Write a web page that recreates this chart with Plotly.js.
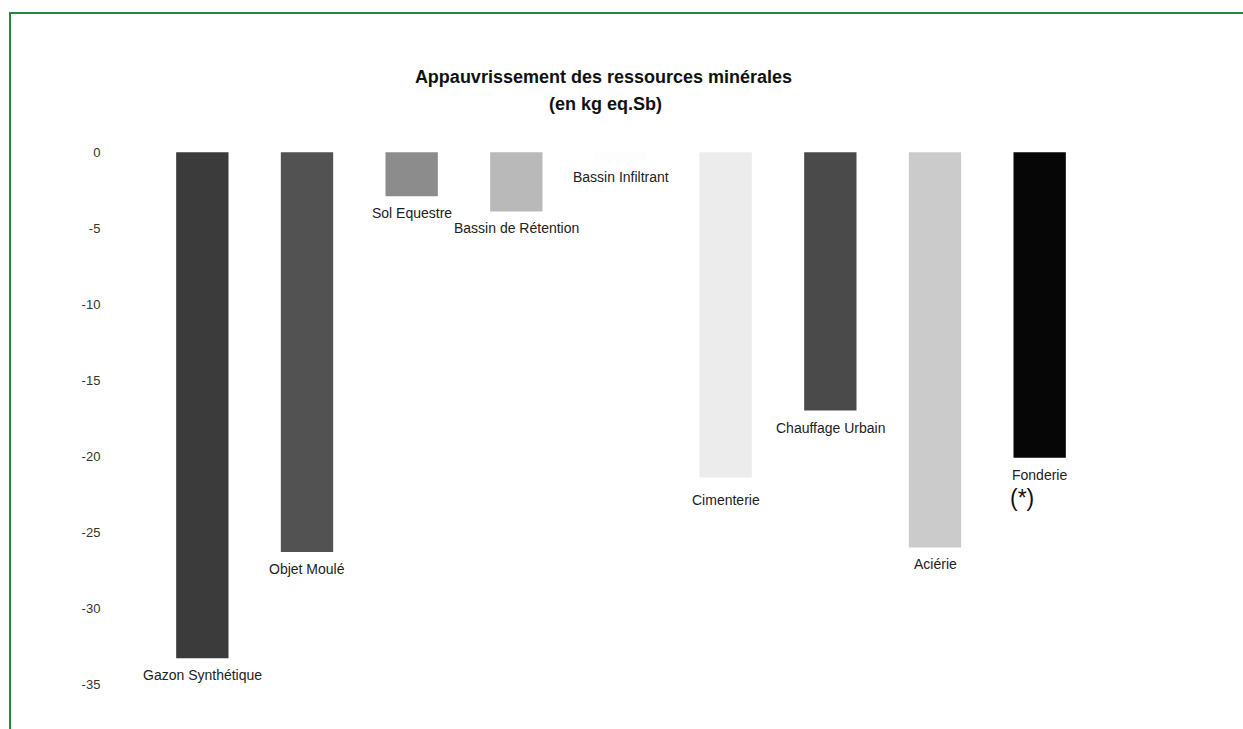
<!DOCTYPE html>
<html>
<head>
<meta charset="utf-8">
<script src="https://cdn.plot.ly/plotly-3.0.1.min.js"></script>
<style>
  html, body { margin: 0; padding: 0; background: #ffffff; }
  #wrap { position: relative; width: 1243px; height: 729px; overflow: hidden; }
  #chart { position: absolute; left: 0; top: 0; width: 1243px; height: 729px; }
  #frame { position: absolute; left: 9px; top: 12px; width: 1260px; height: 740px;
           border-top: 2px solid #1e8a3e; border-left: 2px solid #1e8a3e; pointer-events: none; }
</style>
</head>
<body>
<div id="wrap">
  <div id="chart"></div>
  <div id="frame"></div>
</div>
<script>
// ---- data ----
const categories = ["Gazon Synthétique", "Objet Moulé", "Sol Equestre", "Bassin de Rétention",
                    "Bassin Infiltrant", "Cimenterie", "Chauffage Urbain", "Aciérie", "Fonderie"];
const values = [-33.3, -26.3, -2.9, -3.9, -0.5, -21.4, -17.0, -26.0, -20.1];
const barColors = ["#3b3b3b", "#525252", "#8c8c8c", "#b9b9b9", "#fdfdfd",
                   "#ececec", "#4a4a4a", "#cbcbcb", "#060606"];
const footnoteMark = "(*)";
const yTickValues = [0, -5, -10, -15, -20, -25, -30, -35];
const yTickLabels = ["0", "-5", "-10", "-15", "-20", "-25", "-30", "-35"];
const titleLine1 = "Appauvrissement des ressources minérales";
const titleLine2 = "(en kg eq.Sb)";

const idx = categories.map((_, i) => i);
const last = categories.length - 1;

const trace = {
  type: "bar",
  x: idx,
  y: values,
  width: 0.5,
  marker: { color: barColors, line: { width: 0 } },
  hoverinfo: "skip",
  showlegend: false
};

const font = "Liberation Sans, Arial, Helvetica, sans-serif";

const annotations = idx.map(i => ({
  x: i, y: values[i], xref: "x", yref: "y",
  text: categories[i], showarrow: false,
  xanchor: "center", yanchor: "top", yshift: i === 5 ? -13 : -7,
  font: { family: font, size: 14, color: "#222" }
}));

annotations.push({
  x: last, y: values[last], xref: "x", yref: "y",
  text: footnoteMark, showarrow: false,
  xanchor: "center", yanchor: "top", xshift: -18, yshift: -25,
  font: { family: font, size: 23, color: "#111" }
});

annotations.push({
  xref: "paper", yref: "paper", x: (0.487 * 1243 - 150) / 942, y: 1 + (137 - 104) / 570,
  text: "<b>" + titleLine2 + "</b>", showarrow: false,
  xanchor: "center", yanchor: "middle",
  font: { family: font, size: 18, color: "#111" }
});

const layout = {
  width: 1243, height: 729,
  margin: { l: 150, r: 151, t: 137, b: 22 },
  paper_bgcolor: "#ffffff", plot_bgcolor: "#ffffff",
  title: {
    text: "<b>" + titleLine1 + "</b>",
    x: 0.4855, xref: "container", xanchor: "center",
    y: 1 - 77 / 729, yref: "container", yanchor: "middle",
    font: { family: font, size: 18, color: "#111" }
  },
  xaxis: {
    range: [-0.5, 8.5], showticklabels: false, ticks: "",
    showgrid: false, zeroline: false, showline: false, fixedrange: true
  },
  yaxis: {
    range: [-36.5, 1], tickvals: yTickValues, ticktext: yTickLabels,
    ticks: "outside", ticklen: 46, tickcolor: "rgba(0,0,0,0)",
    showgrid: false, zeroline: false, showline: false, fixedrange: true,
    tickfont: { family: font, size: 13, color: "#333" }
  },
  annotations: annotations,
  bargap: 0.5
};

Plotly.newPlot("chart", [trace], layout, { displayModeBar: false, staticPlot: true });
</script>
</body>
</html>
